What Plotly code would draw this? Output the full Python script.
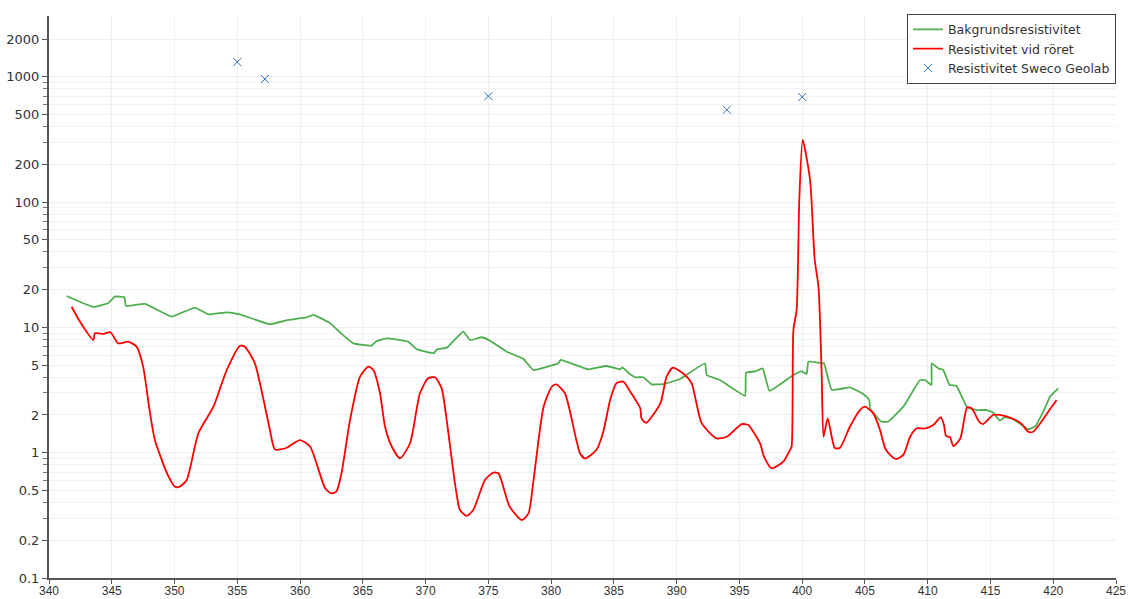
import plotly.graph_objects as go

# Bakgrundsresistivitet (green)
bg_x = [341.4, 343.5, 344.7, 345.26, 346.0, 346.13, 347.65, 349.77, 351.63, 352.69, 354.16,
        355.2, 357.6, 359.06, 360.5, 361.06, 362.4, 363.2, 364.24, 365.7, 366.1, 366.9, 368.6,
        369.3, 370.67, 370.9, 371.7, 373.0, 373.54, 374.47, 375.13, 376.46, 377.8, 378.58,
        380.57, 380.76, 382.96, 384.43, 385.5, 385.67, 386.3, 386.7, 387.35, 388.0, 388.94,
        390.27, 392.26, 392.39, 393.45, 395.45, 395.53, 396.24, 396.85, 397.4, 399.3, 399.96,
        400.36, 400.49, 401.55, 401.74, 402.35, 403.8, 404.87, 405.35, 405.4, 406.3, 406.85,
        408.06, 409.39, 409.8, 410.3, 410.32, 410.85, 411.24, 411.74, 412.3, 413.14, 413.9,
        414.7, 415.2, 415.75, 416.15, 416.8, 418.0, 418.55, 419.2, 419.74, 420.4]
bg_y = [17.8, 14.6, 15.6, 17.6, 17.4, 14.8, 15.4, 12.2, 14.4, 12.7, 13.2,
        12.7, 10.6, 11.5, 12.0, 12.6, 10.8, 9.08, 7.46, 7.15, 7.79, 8.18, 7.69,
        6.69, 6.21, 6.69, 6.89, 9.25, 7.93, 8.34, 7.83, 6.40, 5.6, 4.57,
        5.17, 5.5, 4.63, 4.92, 4.63, 4.80, 4.22, 4.0, 4.0, 3.51, 3.53,
        3.87, 5.17, 4.17, 3.80, 2.84, 4.35, 4.45, 4.71, 3.11, 4.17, 4.45,
        4.25, 5.33, 5.17, 5.17, 3.17, 3.32, 2.94, 2.63, 2.26, 1.77, 1.77,
        2.33, 3.80, 3.80, 3.47, 5.17, 4.71, 4.57, 3.47, 3.41, 2.30, 2.19,
        2.19, 2.09, 1.80, 1.92, 1.86, 1.54, 1.62, 2.12, 2.80, 3.26]

# Resistivitet vid röret (red)
pipe_x = [341.8, 342.47, 343.53, 343.66, 344.33, 344.9, 345.5, 346.3, 346.98, 347.5, 348.05,
          348.44, 349.4, 350.04, 350.4, 350.97, 351.9, 353.1, 354.16, 355.22, 355.6, 356.4,
          357.6, 358.0, 358.9, 360.0, 360.8, 362.0, 362.5, 362.9, 363.3, 363.98, 364.78,
          365.44, 365.84, 366.37, 366.77, 367.3, 367.96, 368.76, 369.55, 370.2, 370.75,
          371.28, 371.68, 372.34, 372.74, 373.27, 373.8, 374.73, 375.4, 375.8, 376.7,
          377.66, 378.2, 378.6, 379.4, 380.05, 380.4, 381.1, 382.3, 382.7, 383.6, 384.16,
          384.7, 385.2, 385.75, 386.3, 387.1, 387.2, 387.56, 388.7, 389.2, 389.7, 390.66,
          391.2, 391.99, 393.19, 393.99, 395.18, 395.7, 396.64, 396.96, 397.57, 398.5,
          399.03, 399.16, 399.3, 399.56, 399.77, 400.04, 400.63, 401.0, 401.3, 401.55,
          401.7, 402.03, 402.6, 403.0, 403.8, 404.6, 405.0, 405.67, 406.2, 406.6, 407.0,
          407.5, 408.06, 408.6, 409.1, 409.8, 410.45, 411.04, 411.3, 411.46, 411.78, 412.04,
          412.6, 413.14, 413.5, 414.1, 414.4, 415.2, 415.75, 416.8, 417.5, 418.0, 418.4,
          418.97, 419.74, 420.27]
pipe_y = [14.6, 11.1, 7.93, 8.97, 8.87, 9.14, 7.46, 7.69, 7.02, 4.86, 2.06,
          1.26, 0.685, 0.535, 0.535, 0.606, 1.43, 2.33, 4.57, 7.14, 7.02, 5.17,
          1.52, 1.06, 1.09, 1.26, 1.12, 0.52, 0.474, 0.49, 0.685, 1.82, 4.04,
          4.86, 4.57, 2.98, 1.61, 1.12, 0.90, 1.19, 2.98, 3.92, 4.0,
          3.26, 1.82, 0.57, 0.349, 0.313, 0.349, 0.606, 0.693, 0.685, 0.371,
          0.29, 0.328, 0.606, 2.33, 3.36, 3.51, 2.98, 0.99, 0.90, 1.05, 1.47,
          2.63, 3.58, 3.69, 3.07, 2.26, 1.88, 1.73, 2.48, 4.04, 4.77, 4.17,
          3.58, 1.72, 1.30, 1.34, 1.69, 1.66, 1.19, 0.93, 0.75, 0.85,
          1.05, 1.12, 9.53, 13.8, 104, 313, 150, 34.5, 21.1, 4.43,
          1.34, 1.88, 1.09, 1.09, 1.61, 2.19, 2.33, 2.06, 1.52, 1.09, 0.96,
          0.89, 0.96, 1.34, 1.56, 1.56, 1.66, 1.92, 1.66, 1.36, 1.33, 1.13,
          1.30, 2.30, 2.26, 1.77, 1.69, 2.0, 2.0, 1.86, 1.69, 1.47, 1.47,
          1.72, 2.22, 2.63]

# Resistivitet Sweco Geolab (blue crosses)
lab_x = [355.0, 357.2, 375.0, 394.0, 400.0]
lab_y = [1310, 960, 700, 545, 690]

y_major = [0.1, 0.2, 0.5, 1, 2, 5, 10, 20, 50, 100, 200, 500, 1000, 2000]
y_labels = ["0.1", "0.2", "0.5", "1", "2", "5", "10", "20", "50", "100", "200", "500", "1000", "2000"]
y_minor = [m * d for d in [0.1, 1, 10, 100, 1000] for m in [3, 4, 6, 7, 8, 9] if m * d < 3000]

fig = go.Figure()
fig.add_trace(go.Scatter(x=bg_x, y=bg_y, mode="lines", name="Bakgrundsresistivitet",
                         line=dict(color="#4fae4f", width=1.8, shape="spline", smoothing=0.3)))
fig.add_trace(go.Scatter(x=pipe_x, y=pipe_y, mode="lines", name="Resistivitet vid röret",
                         line=dict(color="#ff0000", width=1.8, shape="spline", smoothing=0.6)))
fig.add_trace(go.Scatter(x=lab_x, y=lab_y, mode="markers", name="Resistivitet Sweco Geolab",
                         marker=dict(symbol="x-thin-open", size=8, color="#2f6fb5",
                                     line=dict(width=1, color="#2f6fb5"))))

fig.update_layout(
    width=1128, height=599,
    margin=dict(l=49, r=12, t=16, b=21),
    paper_bgcolor="white", plot_bgcolor="white",
    font=dict(family="DejaVu Sans, sans-serif", size=13, color="#333"),
    showlegend=True,
    legend=dict(x=1.0, y=1.004, xanchor="right", yanchor="top",
                bgcolor="white", bordercolor="#444", borderwidth=1,
                font=dict(family="DejaVu Sans, sans-serif", size=12.5), tracegroupgap=0),
)
fig.update_xaxes(range=[340, 425], dtick=5, tick0=340, showline=True, linecolor="#555",
                 linewidth=2, ticks="outside", ticklen=4, tickcolor="#555", automargin=False,
                 ticklabelstandoff=-3,
                 tickfont=dict(family="Liberation Sans Narrow, Liberation Sans, sans-serif", size=12),
                 showgrid=True, gridcolor="#efefef", zeroline=False)
fig.update_yaxes(type="log", range=[-1, 3.485], tickvals=y_major, ticktext=y_labels,
                 showline=True, linecolor="#555", linewidth=2, ticks="outside", ticklen=5,
                 tickcolor="#555", showgrid=True, gridcolor="#efefef", zeroline=False,
                 automargin=False,
                 minor=dict(tickvals=y_minor, ticks="outside", ticklen=4, tickcolor="#777",
                            showgrid=True, gridcolor="#f2f2f2"))

fig.write_html("out.html", config={"displayModeBar": False},
               post_script="document.body.style.margin='0';")
